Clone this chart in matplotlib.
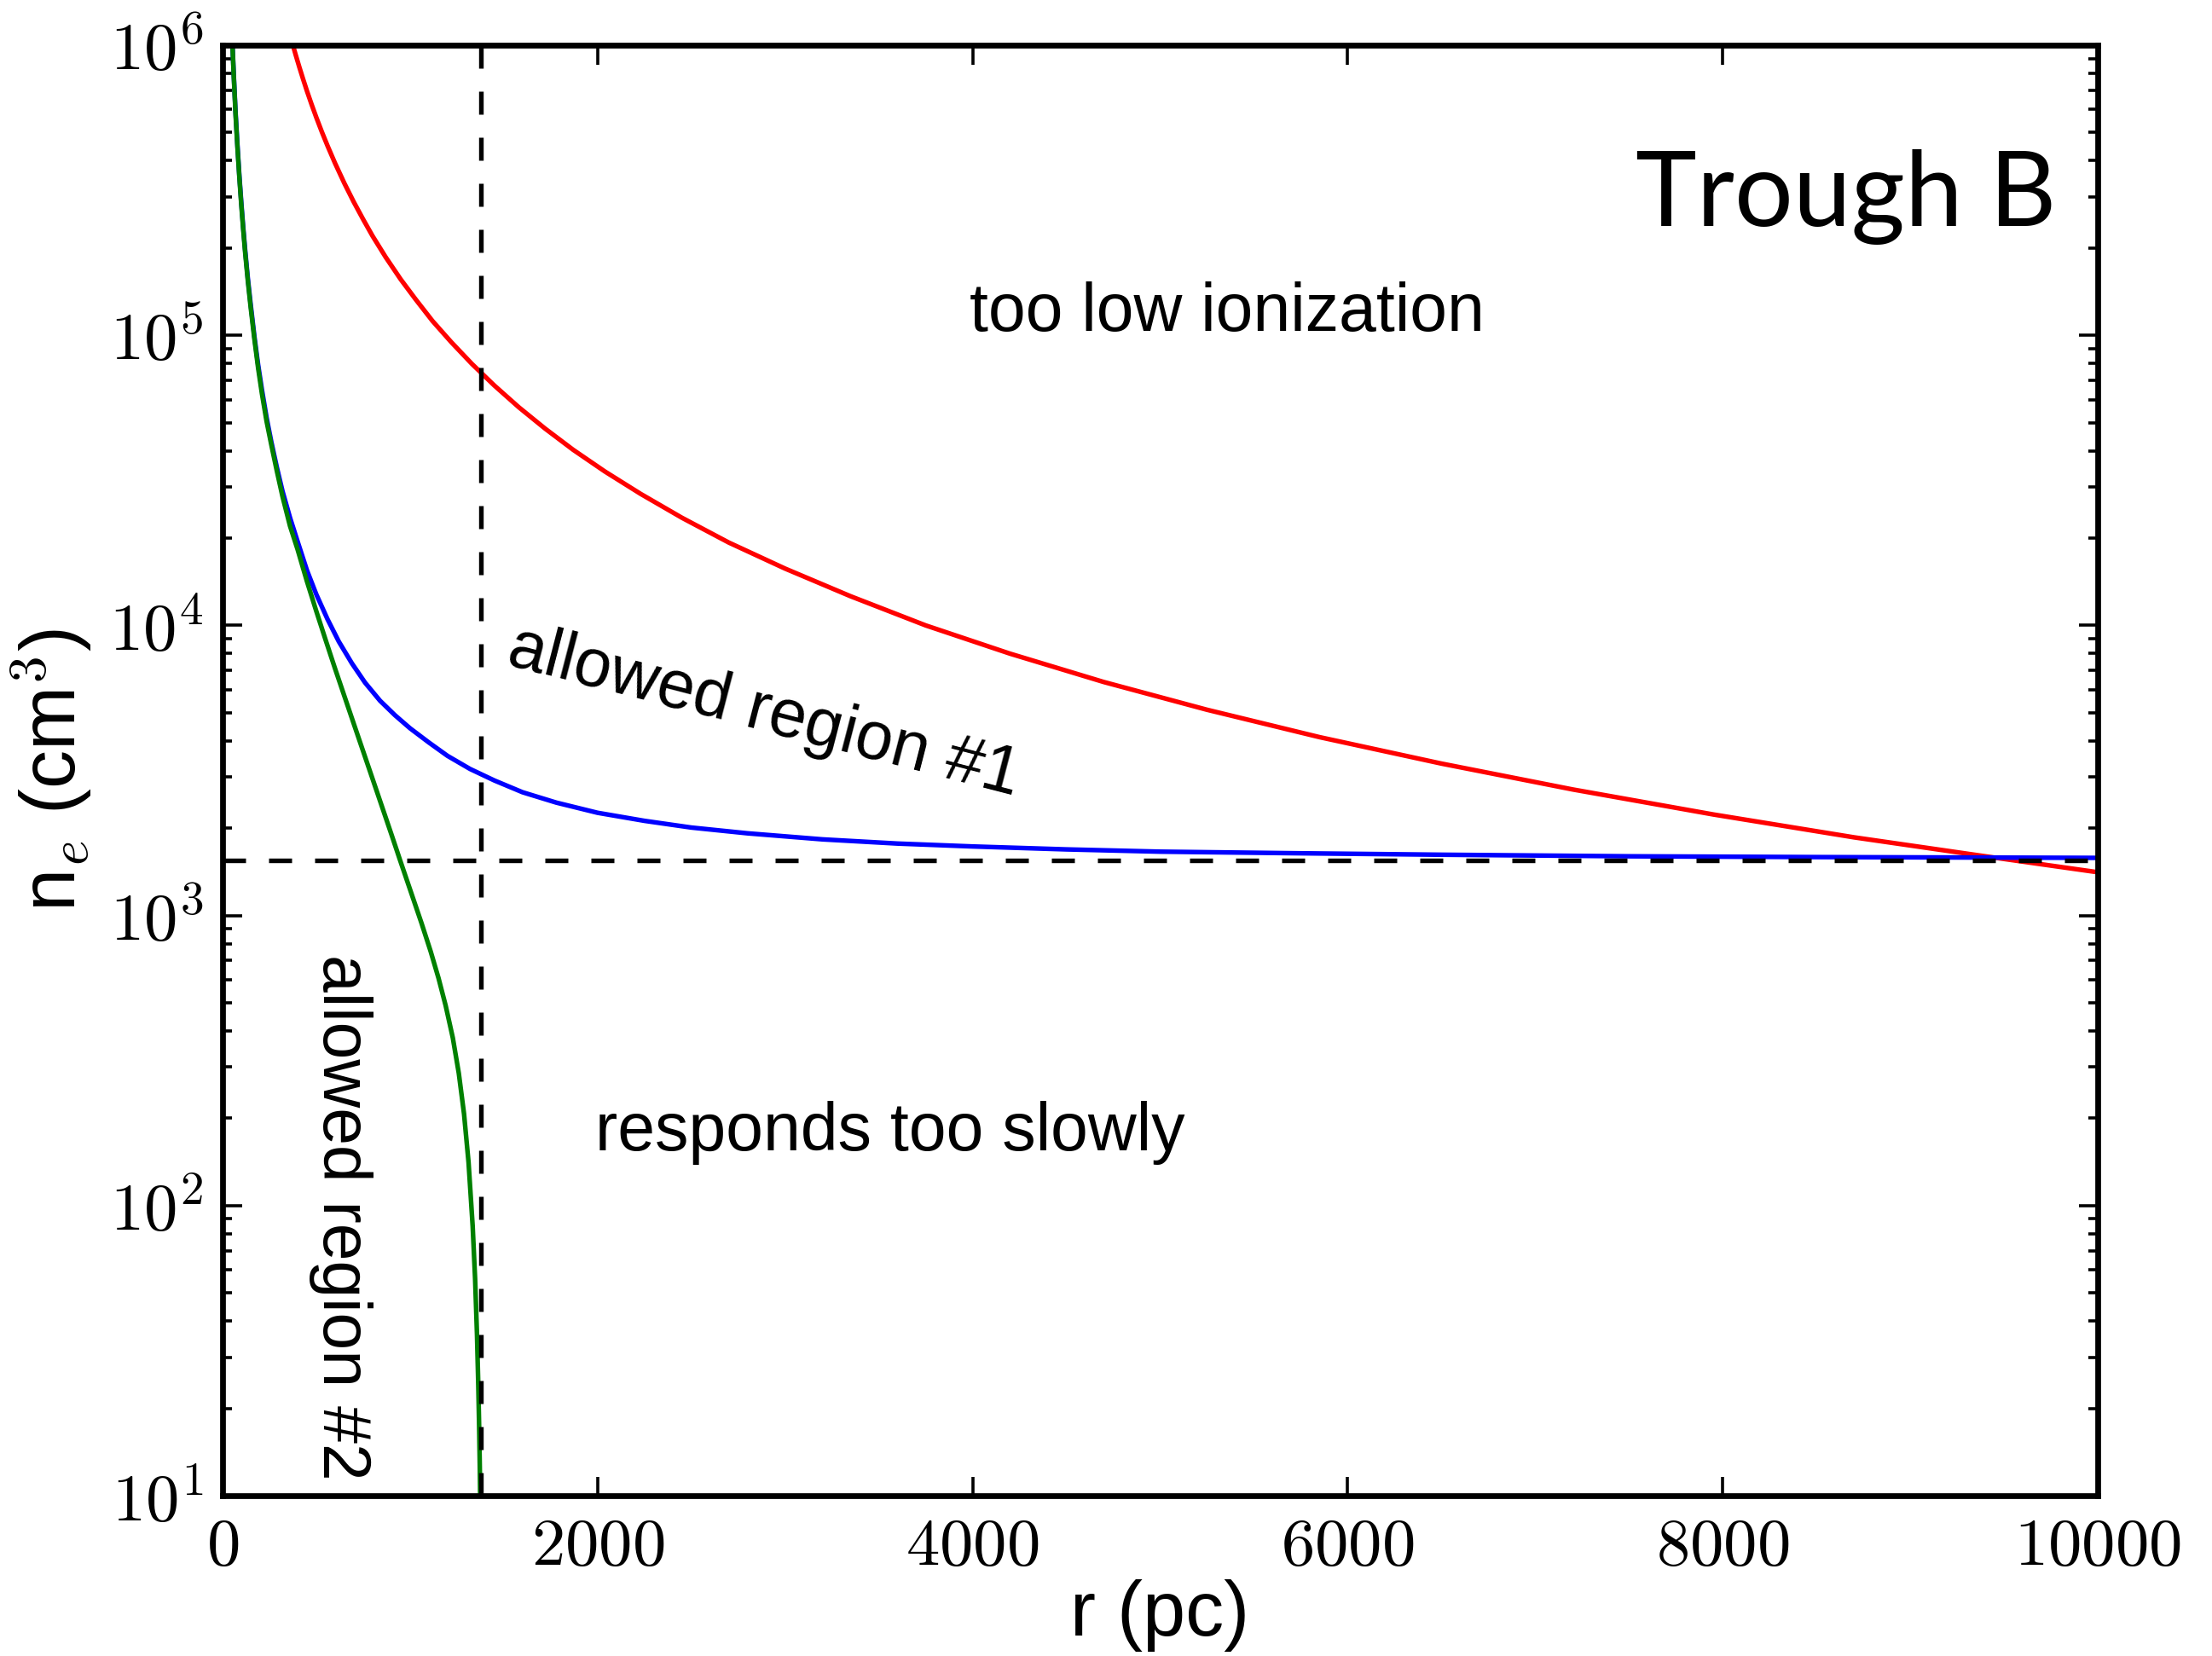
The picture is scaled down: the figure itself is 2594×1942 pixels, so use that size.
import matplotlib
matplotlib.use("Agg")
import matplotlib.pyplot as plt
from matplotlib.ticker import FixedLocator, LogLocator, NullFormatter, NullLocator

plt.rcParams['font.family'] = ['Liberation Sans', 'DejaVu Sans']
plt.rcParams['mathtext.fontset'] = 'cm'

# ---- data ----
r_red = [376, 390, 410, 430, 450, 475, 500, 530, 560, 600, 650, 700, 750, 800, 870,
         950, 1030, 1120, 1220, 1330, 1450, 1580, 1720, 1870, 2040, 2230, 2450,
         2700, 3000, 3350, 3750, 4200, 4700, 5250, 5850, 6500, 7200, 7950, 8700,
         9400, 10000]
n_red = [9.97e5, 9.27e5, 8.39e5, 7.63e5, 6.96e5, 6.25e5, 5.64e5, 5.02e5, 4.50e5,
         3.92e5, 3.34e5, 2.88e5, 2.51e5, 2.20e5, 1.86e5, 1.56e5, 1.33e5, 1.12e5,
         9.47e4, 7.97e4, 6.71e4, 5.65e4, 4.77e4, 4.03e4, 3.39e4, 2.84e4, 2.35e4,
         1.93e4, 1.57e4, 1.26e4, 1.00e4, 7.99e3, 6.38e3, 5.12e3, 4.12e3, 3.34e3,
         2.72e3, 2.23e3, 1.86e3, 1.60e3, 1.41e3]

r_blue = [50, 55, 60, 65, 70, 80, 90, 100, 110, 120, 135, 150, 170, 190, 210, 235,
          260, 290, 320, 360, 400, 450, 500, 560, 620, 690, 760, 840, 920, 1000,
          1100, 1200, 1320, 1450, 1600, 1780, 2000, 2250, 2500, 2800, 3200, 3600,
          4000, 4500, 5000, 5700, 6500, 7500, 8500, 10000]
n_blue = [1.14e6, 9.4e5, 7.9e5, 6.75e5, 5.8e5, 4.47e5, 3.53e5, 2.87e5, 2.37e5,
          1.99e5, 1.57e5, 1.28e5, 9.9e4, 7.9e4, 6.5e4, 5.2e4, 4.3e4, 3.5e4, 2.9e4,
          2.35e4, 1.95e4, 1.55e4, 1.28e4, 1.05e4, 8.8e3, 7.4e3, 6.35e3, 5.5e3,
          4.9e3, 4.42e3, 3.95e3, 3.55e3, 3.2e3, 2.92e3, 2.66e3, 2.45e3, 2.26e3,
          2.12e3, 2.01e3, 1.92e3, 1.83e3, 1.77e3, 1.73e3, 1.69e3, 1.66e3, 1.64e3,
          1.62e3, 1.60e3, 1.59e3, 1.58e3]

r_green = [50, 55, 60, 70, 80, 90, 100, 110, 120, 135, 150, 170, 190, 210, 235, 260,
           290, 320, 360, 400, 450, 500, 550, 600, 700, 800, 900, 947, 1000, 1061,
           1110, 1152, 1190, 1228, 1260, 1288, 1312, 1334, 1347, 1357, 1364, 1369,
           1372, 1374]
n_green = [1.12e6, 9.3e5, 7.8e5, 5.7e5, 4.4e5, 3.48e5, 2.82e5, 2.33e5, 1.95e5,
           1.54e5, 1.25e5, 9.7e4, 7.7e4, 6.3e4, 5.05e4, 4.2e4, 3.4e4, 2.78e4, 2.2e4,
           1.83e4, 1.42e4, 1.12e4, 8.9e3, 7.1e3, 4.58e3, 2.96e3, 1.91e3, 1.55e3,
           1.23e3, 942, 752, 608, 489, 379, 286, 207, 141, 85, 56, 36, 24, 16.7,
           12.6, 10]

r_limit = 1376      # vertical dashed line (pc)
n_limit = 1550      # horizontal dashed line (cm^-3)

x_ticks = [0, 2000, 4000, 6000, 8000, 10000]
x_ticklabels = [r'$0$', r'$2000$', r'$4000$', r'$6000$', r'$8000$', r'$10000$']
y_ticks = [1e1, 1e2, 1e3, 1e4, 1e5, 1e6]
y_ticklabels = [r'$10^{1}$', r'$10^{2}$', r'$10^{3}$', r'$10^{4}$', r'$10^{5}$', r'$10^{6}$']

# ---- figure ----
fig = plt.figure(figsize=(2594 / 324, 1942 / 324), dpi=324)
ax = fig.add_axes([0.1006, 0.0968, 0.8477, 0.8759])

ax.plot(r_red, n_red, color='red', lw=1.2)
ax.plot(r_blue, n_blue, color='blue', lw=1.2)
ax.plot(r_green, n_green, color='green', lw=1.2)
ax.axvline(r_limit, color='k', ls='--', lw=1.2, dashes=(5, 5))
ax.axhline(n_limit, color='k', ls='--', lw=1.2, dashes=(5, 5))

ax.set_yscale('log')
ax.set_xlim(0, 10000)
ax.set_ylim(1e1, 1e6)

ax.xaxis.set_major_locator(FixedLocator(x_ticks))
ax.set_xticklabels(x_ticklabels)
ax.xaxis.set_minor_locator(NullLocator())
ax.yaxis.set_major_locator(FixedLocator(y_ticks))
ax.set_yticklabels(y_ticklabels)
ax.yaxis.set_minor_locator(LogLocator(base=10, subs=range(2, 10)))
ax.yaxis.set_minor_formatter(NullFormatter())

ax.tick_params(which='both', direction='in', top=True, right=True, labelsize=17.5)
ax.tick_params(which='major', length=5, width=0.8, pad=5)
ax.tick_params(which='minor', length=2.5, width=0.8)
for s in ax.spines.values():
    s.set_linewidth(1.5)

ax.set_xlabel('r (pc)', fontsize=20, labelpad=0)
ax.set_ylabel(r'n$_e$ (cm$^3$)', fontsize=20, labelpad=4)

ax.text(5357, 1.19e5, 'too low ionization', fontsize=17.5, ha='center', va='center')
ax.text(9782, 3.0e5, 'Trough B', fontsize=27, family=['Lato', 'DejaVu Sans'],
        ha='right', va='center')
ax.text(2889, 5.0e3, 'allowed region #1', fontsize=17.5, ha='center', va='center',
        rotation=-14.5, rotation_mode='anchor')
ax.text(3559, 178, 'responds too slowly', fontsize=17.5, ha='center', va='center')
ax.text(632, 91, 'allowed region #2', fontsize=17.5, ha='center', va='center',
        rotation=-90)

fig.savefig('out.png', dpi=324, facecolor='white')
